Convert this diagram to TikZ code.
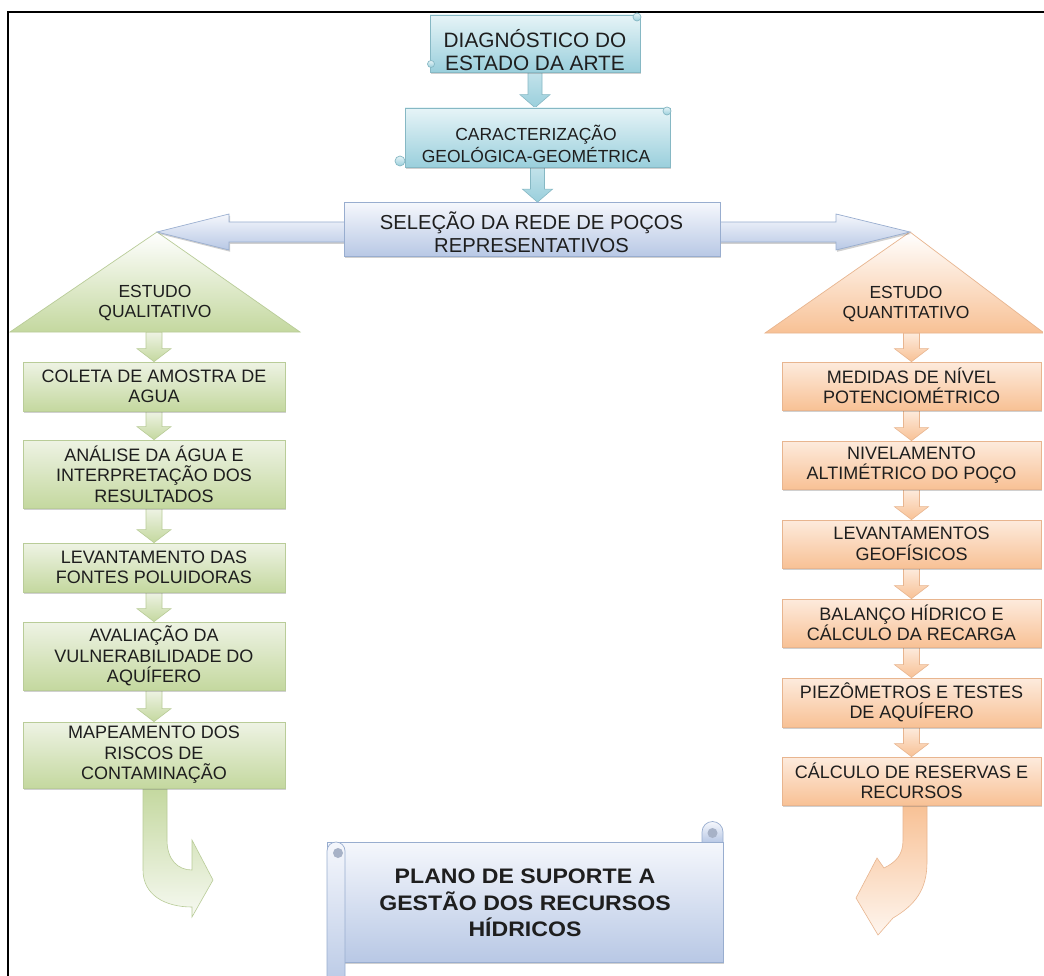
\documentclass[tikz,border=0pt]{standalone}
\usepackage{fontspec}
\setmainfont{Liberation Sans}
\newfontfamily\planofont[FakeStretch=1.1]{Liberation Sans}
\usetikzlibrary{shadows,backgrounds,calc}
\definecolor{cyTop}{HTML}{E6F4F7}
\definecolor{cyBot}{HTML}{9ACFDC}
\definecolor{cyLine}{HTML}{86B8C4}
\definecolor{lvTop}{HTML}{F5F7FC}
\definecolor{lvBot}{HTML}{B8C8E5}
\definecolor{lvLine}{HTML}{98ADCF}
\definecolor{grTop}{HTML}{EEF3E4}
\definecolor{grBot}{HTML}{C4D89F}
\definecolor{grLine}{HTML}{B9CC98}
\definecolor{orTop}{HTML}{FDEBDD}
\definecolor{orBot}{HTML}{F8C195}
\definecolor{orLine}{HTML}{E8B58F}
\definecolor{txt}{HTML}{1E1E1E}
\newcommand\vblock[5]{%
  \path[#3] let \p1=(#1), \p2=(#2) in
    (\x1-#4pt,\y1) -- (\x1-#4pt,\y2+13pt) -- (\x1-#5pt,\y2+13pt) -- (\x1,\y2)
    -- (\x1+#5pt,\y2+13pt) -- (\x1+#4pt,\y2+13pt) -- (\x1+#4pt,\y1) -- cycle;}
\tikzset{
  shad/.style={drop shadow={shadow xshift=1.2pt,shadow yshift=-1.8pt,opacity=.3,fill=black!60}},
  cyfill/.style={draw=cyLine, line width=0.7pt, top color=cyTop, bottom color=cyBot},
  cyarrow/.style={draw=cyLine, line width=0.6pt, top color=cyBot!60!white, bottom color=cyBot},
  lvfill/.style={draw=lvLine, line width=0.7pt, top color=lvTop, bottom color=lvBot},
  grfill/.style={draw=grLine, line width=0.7pt, top color=grTop, bottom color=grBot},
  orfill/.style={draw=orLine, line width=0.7pt, top color=orTop, bottom color=orBot},
  grtri/.style={draw=grLine, line width=0.7pt, top color=white, bottom color=grBot},
  ortri/.style={draw=orLine, line width=0.7pt, top color=white, bottom color=orBot},
  grarrow/.style={draw=grLine, line width=0.6pt, top color=grTop, bottom color=grBot},
  orarrow/.style={draw=orLine, line width=0.6pt, top color=orTop, bottom color=orBot},
  boxtxt/.style={align=center, text=txt, inner sep=0pt},
  gbox/.style={grfill, shad, rectangle, inner sep=0pt, minimum width=262pt, align=center, text=txt, font=\fontsize{18}{20.5}\selectfont},
  obox/.style={orfill, shad, rectangle, inner sep=0pt, minimum width=259pt, align=center, text=txt, font=\fontsize{18}{20.5}\selectfont},
}
\begin{document}
\begin{tikzpicture}[x=1pt,y=-1pt]
\useasboundingbox (0,0) rectangle (1044,976);
\begin{pgfonlayer}{background}
\fill[white, overlay] (-4,-4) rectangle (1050,982);
\end{pgfonlayer}
\draw[line width=1.6pt] (8,977) -- (8,12) -- (1044,12);

% top scrolls
\node[cyfill, shad, minimum width=210pt, minimum height=57pt, inner sep=0pt] (diag) at (535,43.5) {};
\path[cyfill] (637,17) circle[radius=4pt];
\path[cyfill] (431,64) circle[radius=3.5pt];
\node[boxtxt, font=\fontsize{20.8}{23}\selectfont] (diagt) at (535,50) {DIAGNÓSTICO DO\\ESTADO DA ARTE};

\node[cyfill, shad, minimum width=265pt, minimum height=59pt, inner sep=0pt] (carac) at (537.5,137.5) {};
\path[cyfill] (667,111) circle[radius=4pt];
\path[cyfill] (400,161) circle[radius=5pt];
\node[boxtxt, font=\fontsize{17.5}{22}\selectfont] (caract) at (536,144) {CARACTERIZAÇÃO\\GEOLÓGICA-GEOMÉTRICA};

\begin{pgfonlayer}{background}
\vblock{diag.south}{carac.north}{cyarrow}{7}{15}
\end{pgfonlayer}

% triangles and double arrow
\coordinate (ltip) at (157,232);
\coordinate (rtip) at (910,232);
\path[grtri] (ltip) -- (300,332) -- (10,332) -- cycle;
\path[ortri] (rtip) -- (1044,333) -- (765,333) -- cycle;
\node[boxtxt, font=\fontsize{17.5}{20.5}\selectfont] (qual) at (155,303) {ESTUDO\\QUALITATIVO};
\node[boxtxt, font=\fontsize{17.5}{20.5}\selectfont] (quant) at (906,304) {ESTUDO\\QUANTITATIVO};
\coordinate (qlbase) at (154,332);
\coordinate (qnbase) at (911.5,333);

\path[lvfill, shad] (ltip) -- (229,214) -- (229,222) -- (836,222) -- (836,214) -- (rtip)
  -- (836,250) -- (836,242) -- (229,242) -- (229,250) -- cycle;

\node[lvfill, shad, minimum width=376pt, minimum height=54pt, inner sep=0pt] (sel) at (532,229.5) {};
\node[boxtxt, font=\fontsize{20.2}{23}\selectfont] (selt) at (531.5,232) {SELEÇÃO DA REDE DE POÇOS\\REPRESENTATIVOS};

\begin{pgfonlayer}{background}
\vblock{carac.south}{sel.north}{cyarrow}{7}{15}
\end{pgfonlayer}

% left column
\node[gbox, minimum height=49pt] (c1) at (154,386.5) {COLETA DE AMOSTRA DE\\AGUA};
\node[gbox, minimum height=68pt] (c2) at (154,474) {ANÁLISE DA ÁGUA E\\INTERPRETAÇÃO DOS\\RESULTADOS};
\node[gbox, minimum height=49pt] (c3) at (154,567.5) {LEVANTAMENTO DAS\\FONTES POLUIDORAS};
\node[gbox, minimum height=68pt] (c4) at (154,656) {AVALIAÇÃO DA\\VULNERABILIDADE DO\\AQUÍFERO};
\node[gbox, minimum height=66pt] (c5) at (154,755) {MAPEAMENTO DOS\\RISCOS DE\\CONTAMINAÇÃO};

% right column
\node[obox, minimum height=48pt] (q1) at (911.5,386) {MEDIDAS DE NÍVEL\\POTENCIOMÉTRICO};
\node[obox, minimum height=48pt] (q2) at (911.5,465) {NIVELAMENTO\\ALTIMÉTRICO DO POÇO};
\node[obox, minimum height=48pt] (q3) at (911.5,544) {LEVANTAMENTOS\\GEOFÍSICOS};
\node[obox, minimum height=48pt] (q4) at (911.5,623) {BALANÇO HÍDRICO E\\CÁLCULO DA RECARGA};
\node[obox, minimum height=49pt] (q5) at (911.5,702.5) {PIEZÔMETROS E TESTES\\DE AQUÍFERO};
\node[obox, minimum height=48pt] (q6) at (911.5,781) {CÁLCULO DE RESERVAS E\\RECURSOS};

\begin{pgfonlayer}{background}
\vblock{qlbase}{c1.north}{grarrow}{8}{17}
\vblock{c1.south}{c2.north}{grarrow}{8}{17}
\vblock{c2.south}{c3.north}{grarrow}{8}{17}
\vblock{c3.south}{c4.north}{grarrow}{8}{17}
\vblock{c4.south}{c5.north}{grarrow}{8}{17}
\vblock{qnbase}{q1.north}{orarrow}{8}{17}
\vblock{q1.south}{q2.north}{orarrow}{8}{17}
\vblock{q2.south}{q3.north}{orarrow}{8}{17}
\vblock{q3.south}{q4.north}{orarrow}{8}{17}
\vblock{q4.south}{q5.north}{orarrow}{8}{17}
\vblock{q5.south}{q6.north}{orarrow}{8}{17}
% curved arrows
\path[draw=grLine, line width=0.6pt, top color=grBot, bottom color=grTop!50!white]
  (143,788) -- (143,870) .. controls (143,895) and (165,907) .. (192,907)
  -- (192,917) -- (213,880) -- (192,840) -- (192,870)
  .. controls (178,870) and (167,860) .. (167,840) -- (167,788) -- cycle;
\path[draw=orLine, line width=0.6pt, top color=orBot, bottom color=orTop!50!white]
  (927,805) -- (927,862) .. controls (927,890) and (915,905) .. (893,918)
  -- (878,935) -- (856,898) -- (877,858) -- (884,868)
  .. controls (896,862) and (903,855) .. (903,840) -- (903,805) -- cycle;
\end{pgfonlayer}

% bottom scroll
\node[lvfill, shad, minimum width=396pt, minimum height=120pt, inner sep=0pt] (plano) at (525,902) {};
\path[lvfill] (702,842.5) -- (702,832) arc[start angle=180,end angle=0,radius=10.5pt] -- (723,842.5) -- cycle;
\fill[lvBot!70!gray] (712.5,833) circle[radius=5pt];
\path[lvfill] (327,990) -- (327,851) arc[start angle=180,end angle=0,radius=9pt] -- (345,990) -- cycle;
\fill[lvBot!70!gray] (338,853) circle[radius=5pt];
\node[boxtxt, font=\planofont\bfseries\fontsize{21}{26.7}\selectfont] (planot) at (525,903) {PLANO DE SUPORTE A\\GESTÃO DOS RECURSOS\\HÍDRICOS};
\fill[white, overlay] (1042.8,13) rectangle (1050,982);
\end{tikzpicture}
\end{document}
